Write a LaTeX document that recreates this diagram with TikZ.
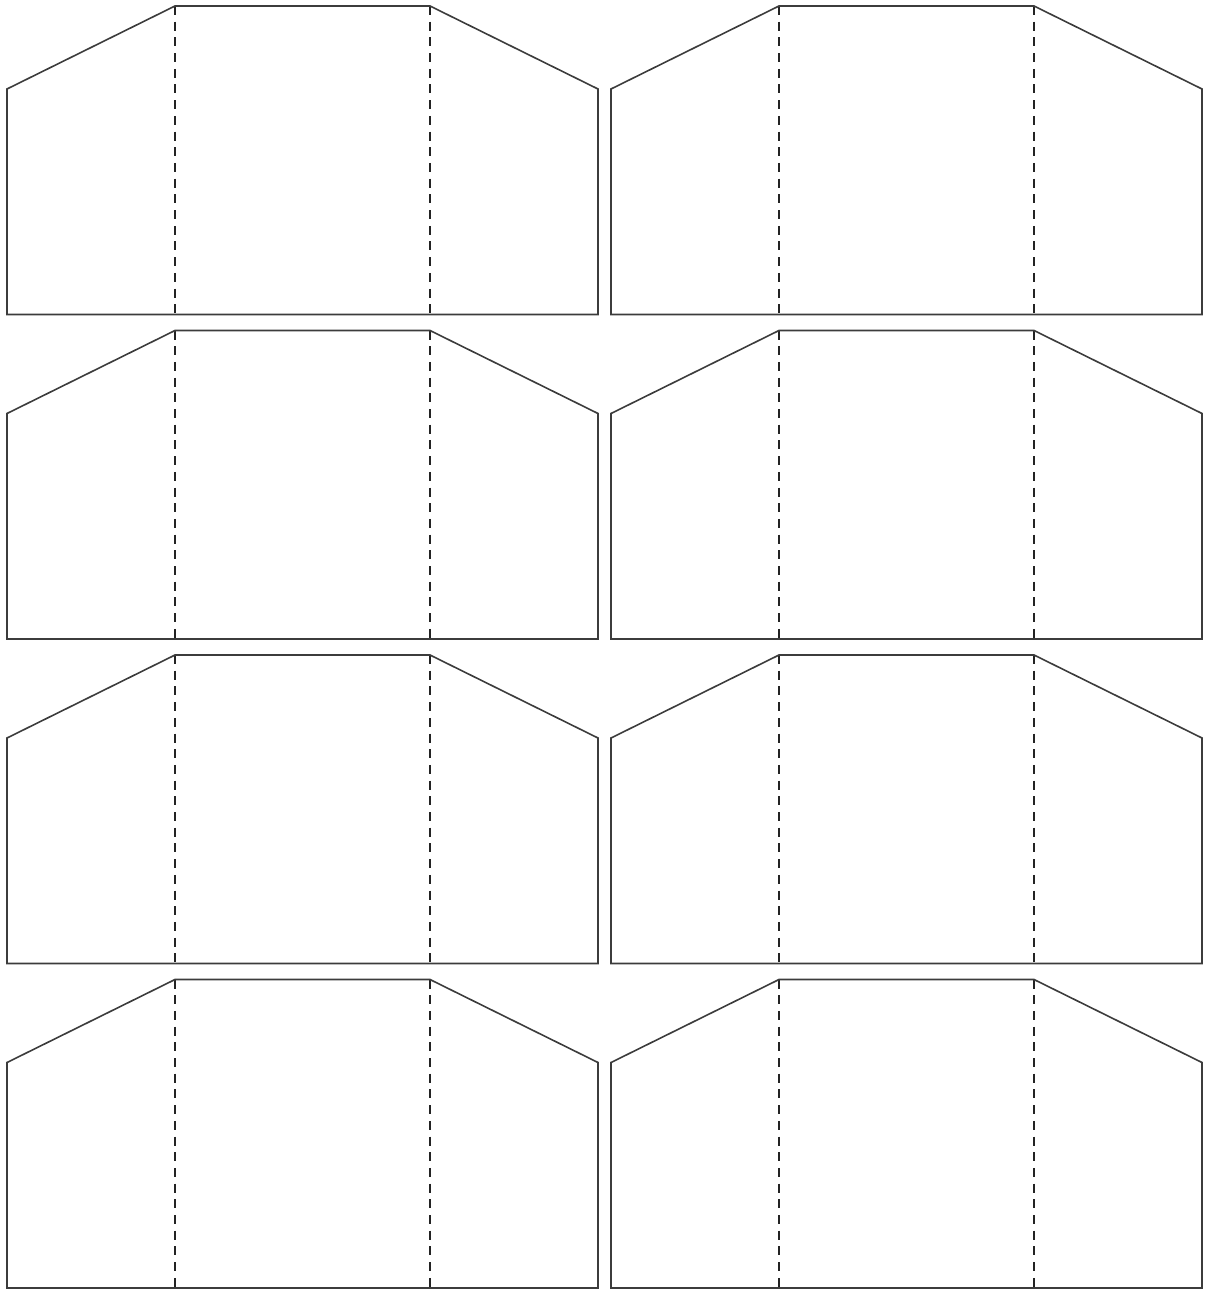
\documentclass[tikz,border=0pt]{standalone}
\begin{document}
\begin{tikzpicture}[x=1pt,y=-1pt,
  outline/.style={draw={rgb,255:red,60;green,60;blue,60},line width=1.6pt,line join=miter},
  fold/.style={draw={rgb,255:red,35;green,35;blue,35},line width=1.3pt,dash pattern=on 9pt off 6.7pt}]
\useasboundingbox (0,0) rectangle (1208,1289);
\foreach \r in {0,1,2,3}{
  \foreach \c in {0,604}{
    \pgfmathsetmacro{\t}{6+324.5*\r}
    \pgfmathsetmacro{\s}{\t+83}
    \pgfmathsetmacro{\b}{\t+308.5}
    \draw[fold] ({\c+175},\t) -- ({\c+175},\b);
    \draw[fold] ({\c+430},\t) -- ({\c+430},\b);
    \draw[outline] ({\c+7},\s) -- ({\c+175},\t) -- ({\c+430},\t) -- ({\c+598},\s) -- ({\c+598},\b) -- ({\c+7},\b) -- cycle;
  }
}
\end{tikzpicture}
\end{document}
